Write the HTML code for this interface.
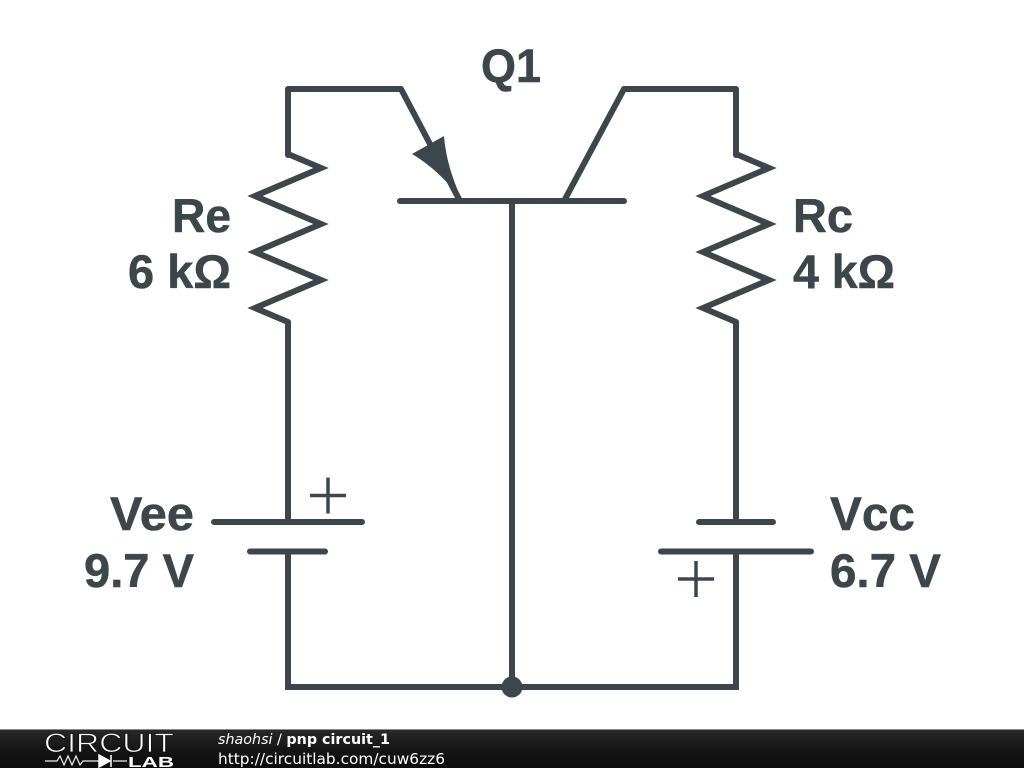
<!DOCTYPE html>
<html><head><meta charset="utf-8"><style>
html,body{margin:0;padding:0;background:#fff;width:1024px;height:768px;overflow:hidden}
svg{display:block}
</style></head><body>
<svg width="1024" height="768" viewBox="0 0 1024 768" xmlns="http://www.w3.org/2000/svg">
<defs><linearGradient id="g" x1="0" y1="0" x2="0" y2="1"><stop offset="0" stop-color="#2a2a2a"/><stop offset="0.5" stop-color="#161616"/><stop offset="1" stop-color="#0c0c0c"/></linearGradient></defs>
<g fill="none" stroke="#3d464b" stroke-width="6" stroke-linecap="round" stroke-linejoin="miter">
<path d="M288 155V89H401L460 201" stroke-linejoin="round"/>
<path d="M564 201L624 89H736V155" stroke-linejoin="round"/>
<path d="M400 201H624"/>
<path d="M512 201V687"/>
<path d="M288 154L321 168L255 196L321 224L255 252L321 280L255 308L288 322"/>
<path d="M736 154L769 168L703 196L769 224L703 252L769 280L703 308L736 322"/>
<path d="M288 322V522M288 551.500V687H736V551.500M736 522V322"/>
<path d="M214 522H362M250 551.500H325"/>
<path d="M699 522H773M661 551.500H811"/>
</g>
<path d="M412 154L444 136C446 160 453 180 462 200C446 180 432 166 412 154Z" fill="#3d464b"/>
<circle cx="512" cy="687" r="10.500" fill="#3d464b"/>
<g stroke="#3d464b" stroke-width="3.500" fill="none">
<path d="M310 495.500H346M328 477.500V513.500"/>
<path d="M678 579H714M696 561V597"/>
</g>
<g font-family="'Liberation Sans',sans-serif" font-weight="700" font-size="47" fill="#3d464b" stroke="#3d464b" stroke-width="0.5">
<text x="481" y="82" textLength="60" lengthAdjust="spacingAndGlyphs">Q1</text>
<text x="172" y="232" textLength="59" lengthAdjust="spacingAndGlyphs">Re</text>
<text x="128" y="288" textLength="103" lengthAdjust="spacingAndGlyphs">6 kΩ</text>
<text x="793" y="232" textLength="60" lengthAdjust="spacingAndGlyphs">Rc</text>
<text x="793" y="288" textLength="102" lengthAdjust="spacingAndGlyphs">4 kΩ</text>
<text x="110" y="530" textLength="84" lengthAdjust="spacingAndGlyphs">Vee</text>
<text x="84" y="587" textLength="110" lengthAdjust="spacingAndGlyphs">9.7 V</text>
<text x="830" y="530" textLength="85" lengthAdjust="spacingAndGlyphs">Vcc</text>
<text x="830" y="587" textLength="111" lengthAdjust="spacingAndGlyphs">6.7 V</text>
</g>
<rect x="0" y="729" width="1024" height="39" fill="url(#g)"/>
<rect x="0" y="729" width="1024" height="1" fill="#8a8a8a"/>
<text x="44" y="752" font-family="'Liberation Sans',sans-serif" font-size="27" fill="#fff" stroke="#111" stroke-width="0.8" textLength="130" lengthAdjust="spacingAndGlyphs">CIRCUIT</text>
<path d="M45 761H57L60 756L64 765L68 756L72 765L76 756L80 765L83 761H99M113 761H127" fill="none" stroke="#eee" stroke-width="1.2"/>
<path d="M99 755L110 761L99 767ZM111 755V767" fill="#fff" stroke="#fff" stroke-width="1.500"/>
<text x="128" y="767" font-family="'Liberation Sans',sans-serif" font-weight="700" font-size="15" fill="#fff" textLength="46" lengthAdjust="spacingAndGlyphs">LAB</text>
<text x="218" y="744" font-family="'DejaVu Sans',sans-serif" font-size="14" fill="#fff" textLength="172" lengthAdjust="spacingAndGlyphs"><tspan font-style="italic">shaohsi</tspan> / <tspan font-weight="700">pnp circuit_1</tspan></text>
<text x="218" y="764" font-family="'DejaVu Sans',sans-serif" font-size="15" fill="#fff" textLength="227" lengthAdjust="spacingAndGlyphs">http://circuitlab.com/cuw6zz6</text>
</svg>
</body></html>
